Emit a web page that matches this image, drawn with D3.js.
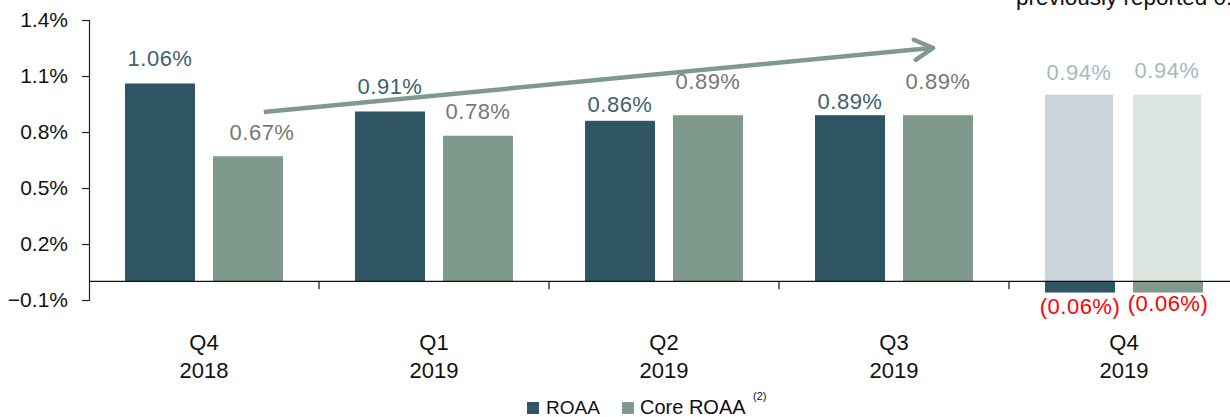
<!DOCTYPE html>
<html>
<head>
<meta charset="utf-8">
<script src="https://cdn.jsdelivr.net/npm/d3@7"></script>
<style>
  body { margin: 0; background: #fff; }
  svg { display: block; font-family: "Liberation Sans", Arial, sans-serif; }
</style>
</head>
<body>
<div id="chart"></div>
<script>
// chart data
const quarters = ["Q4|2018", "Q1|2019", "Q2|2019", "Q3|2019", "Q4|2019"];
const roaa = [1.06, 0.91, 0.86, 0.89, -0.06];
const coreRoaa = [0.67, 0.78, 0.89, 0.89, -0.06];
const prevReportedLabels = ["0.94%", "0.94%"];
const prevReportedBars = [1.00, 1.00];   // bars as drawn in the picture
const yTicks = [-0.1, 0.2, 0.5, 0.8, 1.1, 1.4];
const legendNames = ["ROAA", "Core ROAA"];

const W = 1230, H = 417;
const colRoaa = "#2f5463", colCore = "#7f9a8d";

const svg = d3.select("#chart").append("svg")
  .attr("width", W).attr("height", H);

// scales
let x = d3.scaleBand().domain(quarters).range([89, 1239]);
let xSub = d3.scaleBand().domain(["roaa", "core"])
  .range([0, x.bandwidth()]).paddingInner(18 / 88).paddingOuter(0.409);
let y = d3.scaleLinear().domain([-0.1, 1.4]).range([300, 20]);

// y axis
svg.append("g")
  .attr("transform", "translate(89,0)")
  .call(d3.axisLeft(y).tickValues(yTicks).tickSize(7).tickPadding(14)
    .tickFormat(d => d3.format(".1f")(d) + "%"))
  .call(g => g.select(".domain").attr("stroke", "#222").attr("stroke-width", 1.2))
  .call(g => g.selectAll(".tick line").attr("stroke", "#222").attr("stroke-width", 1.2))
  .call(g => g.selectAll("text").attr("font-size", 21).attr("fill", "#111")
    .attr("font-family", "Liberation Sans, Arial, sans-serif"));

// previously reported (faded) bars in the last quarter
const lastQ = quarters[quarters.length - 1];
svg.append("g").selectAll("rect")
  .data(prevReportedBars)
  .join("rect")
    .attr("x", (d, i) => x(lastQ) + xSub(i == 0 ? "roaa" : "core"))
    .attr("width", xSub.bandwidth() - 2)
    .attr("y", d => y(d))
    .attr("height", d => y(0) - y(d))
    .attr("fill", (d, i) => i == 0 ? "#cbd3db" : "#dce5e0");

// main bars
const rows = quarters.map((q, i) => ({q: q, roaa: roaa[i], core: coreRoaa[i]}));
const bars = [];
rows.forEach(r => {
  bars.push({q: r.q, key: "roaa", v: r.roaa});
  bars.push({q: r.q, key: "core", v: r.core});
});

svg.append("g").selectAll("rect")
  .data(bars)
  .join("rect")
    .attr("x", d => x(d.q) + xSub(d.key))
    .attr("width", xSub.bandwidth())
    .attr("y", d => y(Math.max(0, d.v)))
    .attr("height", d => Math.abs(y(d.v) - y(0)))
    .attr("fill", d => d.key == "roaa" ? colRoaa : colCore);

// x axis line at zero + separators between quarters
svg.append("line")
  .attr("x1", 89).attr("x2", W)
  .attr("y1", y(0)).attr("y2", y(0))
  .attr("stroke", "#111").attr("stroke-width", 1.4);
svg.append("g").selectAll("line")
  .data(quarters.slice(1))
  .join("line")
    .attr("x1", d => x(d)).attr("x2", d => x(d))
    .attr("y1", y(0)).attr("y2", y(0) + 8)
    .attr("stroke", "#111").attr("stroke-width", 1.2);

// category labels
const cat = svg.append("g").selectAll("text")
  .data(quarters)
  .join("text")
    .attr("x", d => x(d) + x.bandwidth() / 2)
    .attr("text-anchor", "middle")
    .attr("font-size", 22)
    .attr("fill", "#111");
cat.append("tspan").attr("x", d => x(d) + x.bandwidth() / 2).attr("y", 350).text(d => d.split("|")[0]);
cat.append("tspan").attr("x", d => x(d) + x.bandwidth() / 2).attr("y", 378).text(d => d.split("|")[1]);

// value labels (lift above bar top, set by eye)
const liftRoaa = [17, 17, 9, 6];
const liftCore = [16, 17, 26, 26];
const fmt = v => v < 0 ? "(" + d3.format(".2f")(-v) + "%)" : d3.format(".2f")(v) + "%";

svg.append("g").selectAll("text")
  .data(bars)
  .join("text")
    .attr("x", d => x(d.q) + xSub(d.key) + xSub.bandwidth() / 2 + (d.q == "Q4|2018" && d.key == "core" ? 14 : 0))
    .attr("y", d => {
      let i = quarters.indexOf(d.q);
      if (d.v < 0) return y(d.v) + (d.key == "roaa" ? 21 : 18);
      return y(d.v) - (d.key == "roaa" ? liftRoaa[i] : liftCore[i]);
    })
    .attr("text-anchor", "middle")
    .attr("font-size", 22)
    .attr("letter-spacing", 0.5)
    .attr("fill", d => d.v < 0 ? "#ff0000" : (d.key == "roaa" ? "#3b6272" : "#777"))
    .text(d => fmt(d.v));

svg.append("g").selectAll("text")
  .data(prevReportedLabels)
  .join("text")
    .attr("x", (d, i) => x(lastQ) + xSub(i == 0 ? "roaa" : "core") + xSub.bandwidth() / 2 - 1)
    .attr("y", (d, i) => y(prevReportedBars[i]) - (i == 0 ? 15 : 17))
    .attr("text-anchor", "middle")
    .attr("font-size", 22)
    .attr("letter-spacing", 0.5)
    .attr("fill", "#a9b9bf")
    .text(d => d);

// trend arrow
const arrowStart = [x(quarters[0]) + 0.76 * x.bandwidth(), y(0.907)];
const arrowEnd = [x(quarters[3]) + 0.67 * x.bandwidth(), y(1.25)];
svg.append("line")
  .attr("x1", arrowStart[0]).attr("y1", arrowStart[1])
  .attr("x2", arrowEnd[0] - 2).attr("y2", arrowEnd[1])
  .attr("stroke", colCore).attr("stroke-width", 4.5);
const ang = Math.atan2(arrowEnd[1] - arrowStart[1], arrowEnd[0] - arrowStart[0]);
const headLen = 21, headAng = 0.5;
const headPts = [
  [arrowEnd[0] - headLen * Math.cos(ang - headAng), arrowEnd[1] - headLen * Math.sin(ang - headAng)],
  arrowEnd,
  [arrowEnd[0] - headLen * Math.cos(ang + headAng), arrowEnd[1] - headLen * Math.sin(ang + headAng)]
];
svg.append("path")
  .attr("d", d3.line()(headPts))
  .attr("fill", "none")
  .attr("stroke", colCore).attr("stroke-width", 4.5)
  .attr("stroke-linecap", "round").attr("stroke-linejoin", "round");

// note at top right (clipped by the frame in the original too)
svg.append("text")
  .attr("x", 1016).attr("y", 5)
  .attr("font-size", 22.5).attr("fill", "#111")
  .text("previously reported 0.94%");

// legend
const leg = svg.append("g").attr("transform", "translate(527,402)");
leg.append("rect").attr("width", 12).attr("height", 12).attr("fill", colRoaa);
leg.append("text").attr("x", 19).attr("y", 12).attr("font-size", 19).attr("fill", "#111").text(legendNames[0]);
leg.append("rect").attr("x", 95).attr("width", 12).attr("height", 12).attr("fill", colCore);
leg.append("text").attr("x", 113).attr("y", 12).attr("font-size", 20).attr("fill", "#111").text(legendNames[1]);
leg.append("text").attr("x", 226).attr("y", -2).attr("font-size", 11).attr("fill", "#111").text("(2)");
</script>
</body>
</html>
